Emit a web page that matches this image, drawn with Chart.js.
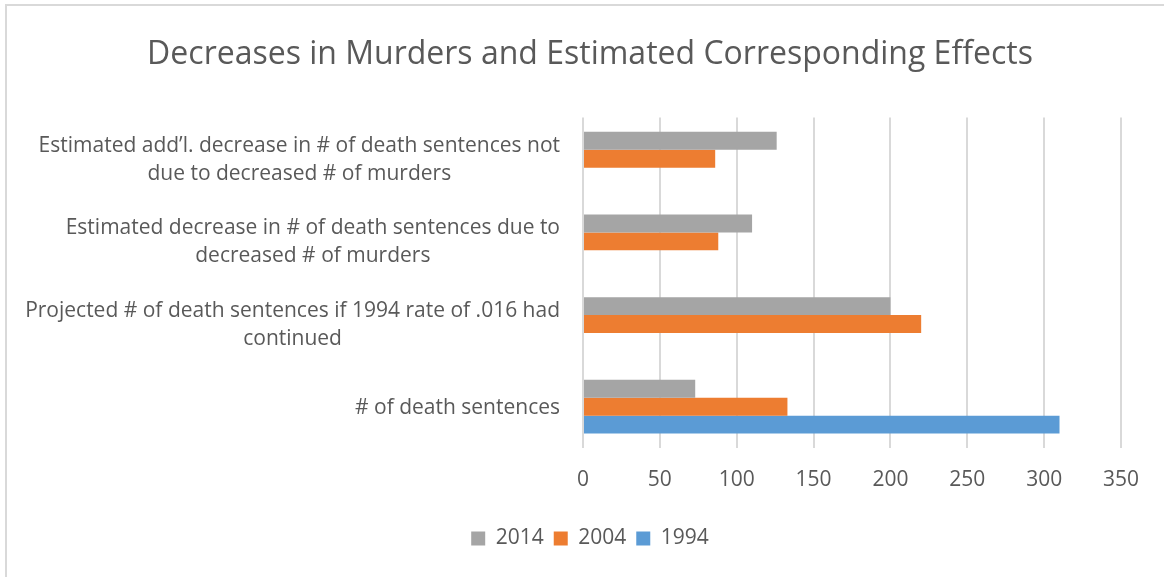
<!DOCTYPE html>
<html>
<head>
<meta charset="utf-8">
<script src="https://cdn.jsdelivr.net/npm/chart.js@4"></script>
<style>
  html, body { margin: 0; padding: 0; background: #fff; }
  #wrap { position: relative; width: 1164px; height: 577px; }
  #frame { position: absolute; left: 5px; top: 4px; right: 0; bottom: 0;
           border-left: 2px solid #d9d9d9; border-top: 2px solid #d9d9d9; }
  canvas { position: absolute; left: 0; top: 0; }
</style>
</head>
<body>
<div id="wrap">
  <div id="frame"></div>
  <canvas id="chart" width="1164" height="577"></canvas>
</div>
<script>
// categories, top to bottom
const categories = [
  ['Estimated add\u2019l. decrease in # of death sentences not', 'due to decreased # of murders'],
  ['Estimated decrease in # of death sentences due to', 'decreased # of murders'],
  ['Projected # of death sentences if 1994 rate of .016 had', 'continued'],
  ['# of death sentences']
];
const years = ['2014', '2004', '1994'];
const values2014 = [126, 110, 200, 73];
const values2004 = [86, 88, 220, 133];
const values1994 = [null, null, null, 310];
const xTicks = [0, 50, 100, 150, 200, 250, 300, 350];

const textColor = '#595959';
const fontFamily = '"Open Sans", sans-serif';

// excel style labels: right aligned block, lines centered to each other
const centeredYLabels = {
  id: 'centeredYLabels',
  afterDraw(chart) {
    const scale = chart.scales.y;
    const ctx = chart.ctx;
    const lineH = 28;
    ctx.save();
    ctx.font = '21px ' + fontFamily;
    ctx.fillStyle = textColor;
    ctx.textAlign = 'center';
    ctx.textBaseline = 'middle';
    categories.forEach((lab, i) => {
      const lines = [].concat(lab);
      const widest = Math.max(...lines.map(l => ctx.measureText(l).width));
      const cx = scale.right - 23 - widest / 2;
      const y0 = scale.getPixelForValue(i) - (lines.length - 1) * lineH / 2 + 1;
      lines.forEach((l, j) => ctx.fillText(l, cx, y0 + j * lineH));
    });
    ctx.restore();
  }
};

new Chart(document.getElementById('chart'), {
  type: 'bar',
  data: {
    labels: categories,
    datasets: [
      { label: years[0], data: values2014, backgroundColor: '#a5a5a5' },
      { label: years[1], data: values2004, backgroundColor: '#ed7d31' },
      { label: years[2], data: values1994, backgroundColor: '#5b9bd5' }
    ]
  },
  options: {
    indexAxis: 'y',
    responsive: false,
    animation: false,
    layout: { padding: { left: 59, right: 43, top: 0, bottom: 18 } },
    datasets: {
      bar: { categoryPercentage: 0.65, barPercentage: 1.0 }
    },
    scales: {
      x: {
        min: 0,
        max: 350,
        afterBuildTicks: (scale) => { scale.ticks = xTicks.map(v => ({ value: v })); },
        grid: { color: '#d9d9d9', lineWidth: 2, drawTicks: false },
        border: { display: false },
        ticks: { color: textColor, padding: 19, font: { family: fontFamily, size: 21 } },
        afterFit: (scale) => { scale.height = 70; }
      },
      y: {
        grid: { display: false },
        border: { display: false },
        ticks: { display: false },
        afterFit: (scale) => { scale.width = 524; }
      }
    },
    plugins: {
      title: {
        display: true,
        text: 'Decreases in Murders and Estimated Corresponding Effects',
        color: textColor,
        font: { family: fontFamily, size: 32, weight: 'normal' },
        padding: { top: 36, bottom: 43 }
      },
      legend: {
        position: 'bottom',
        labels: {
          color: textColor,
          font: { family: fontFamily, size: 21 },
          boxWidth: 14,
          boxHeight: 14,
          padding: 10
        }
      },
      tooltip: { enabled: false }
    }
  },
  plugins: [centeredYLabels]
});
</script>
</body>
</html>
